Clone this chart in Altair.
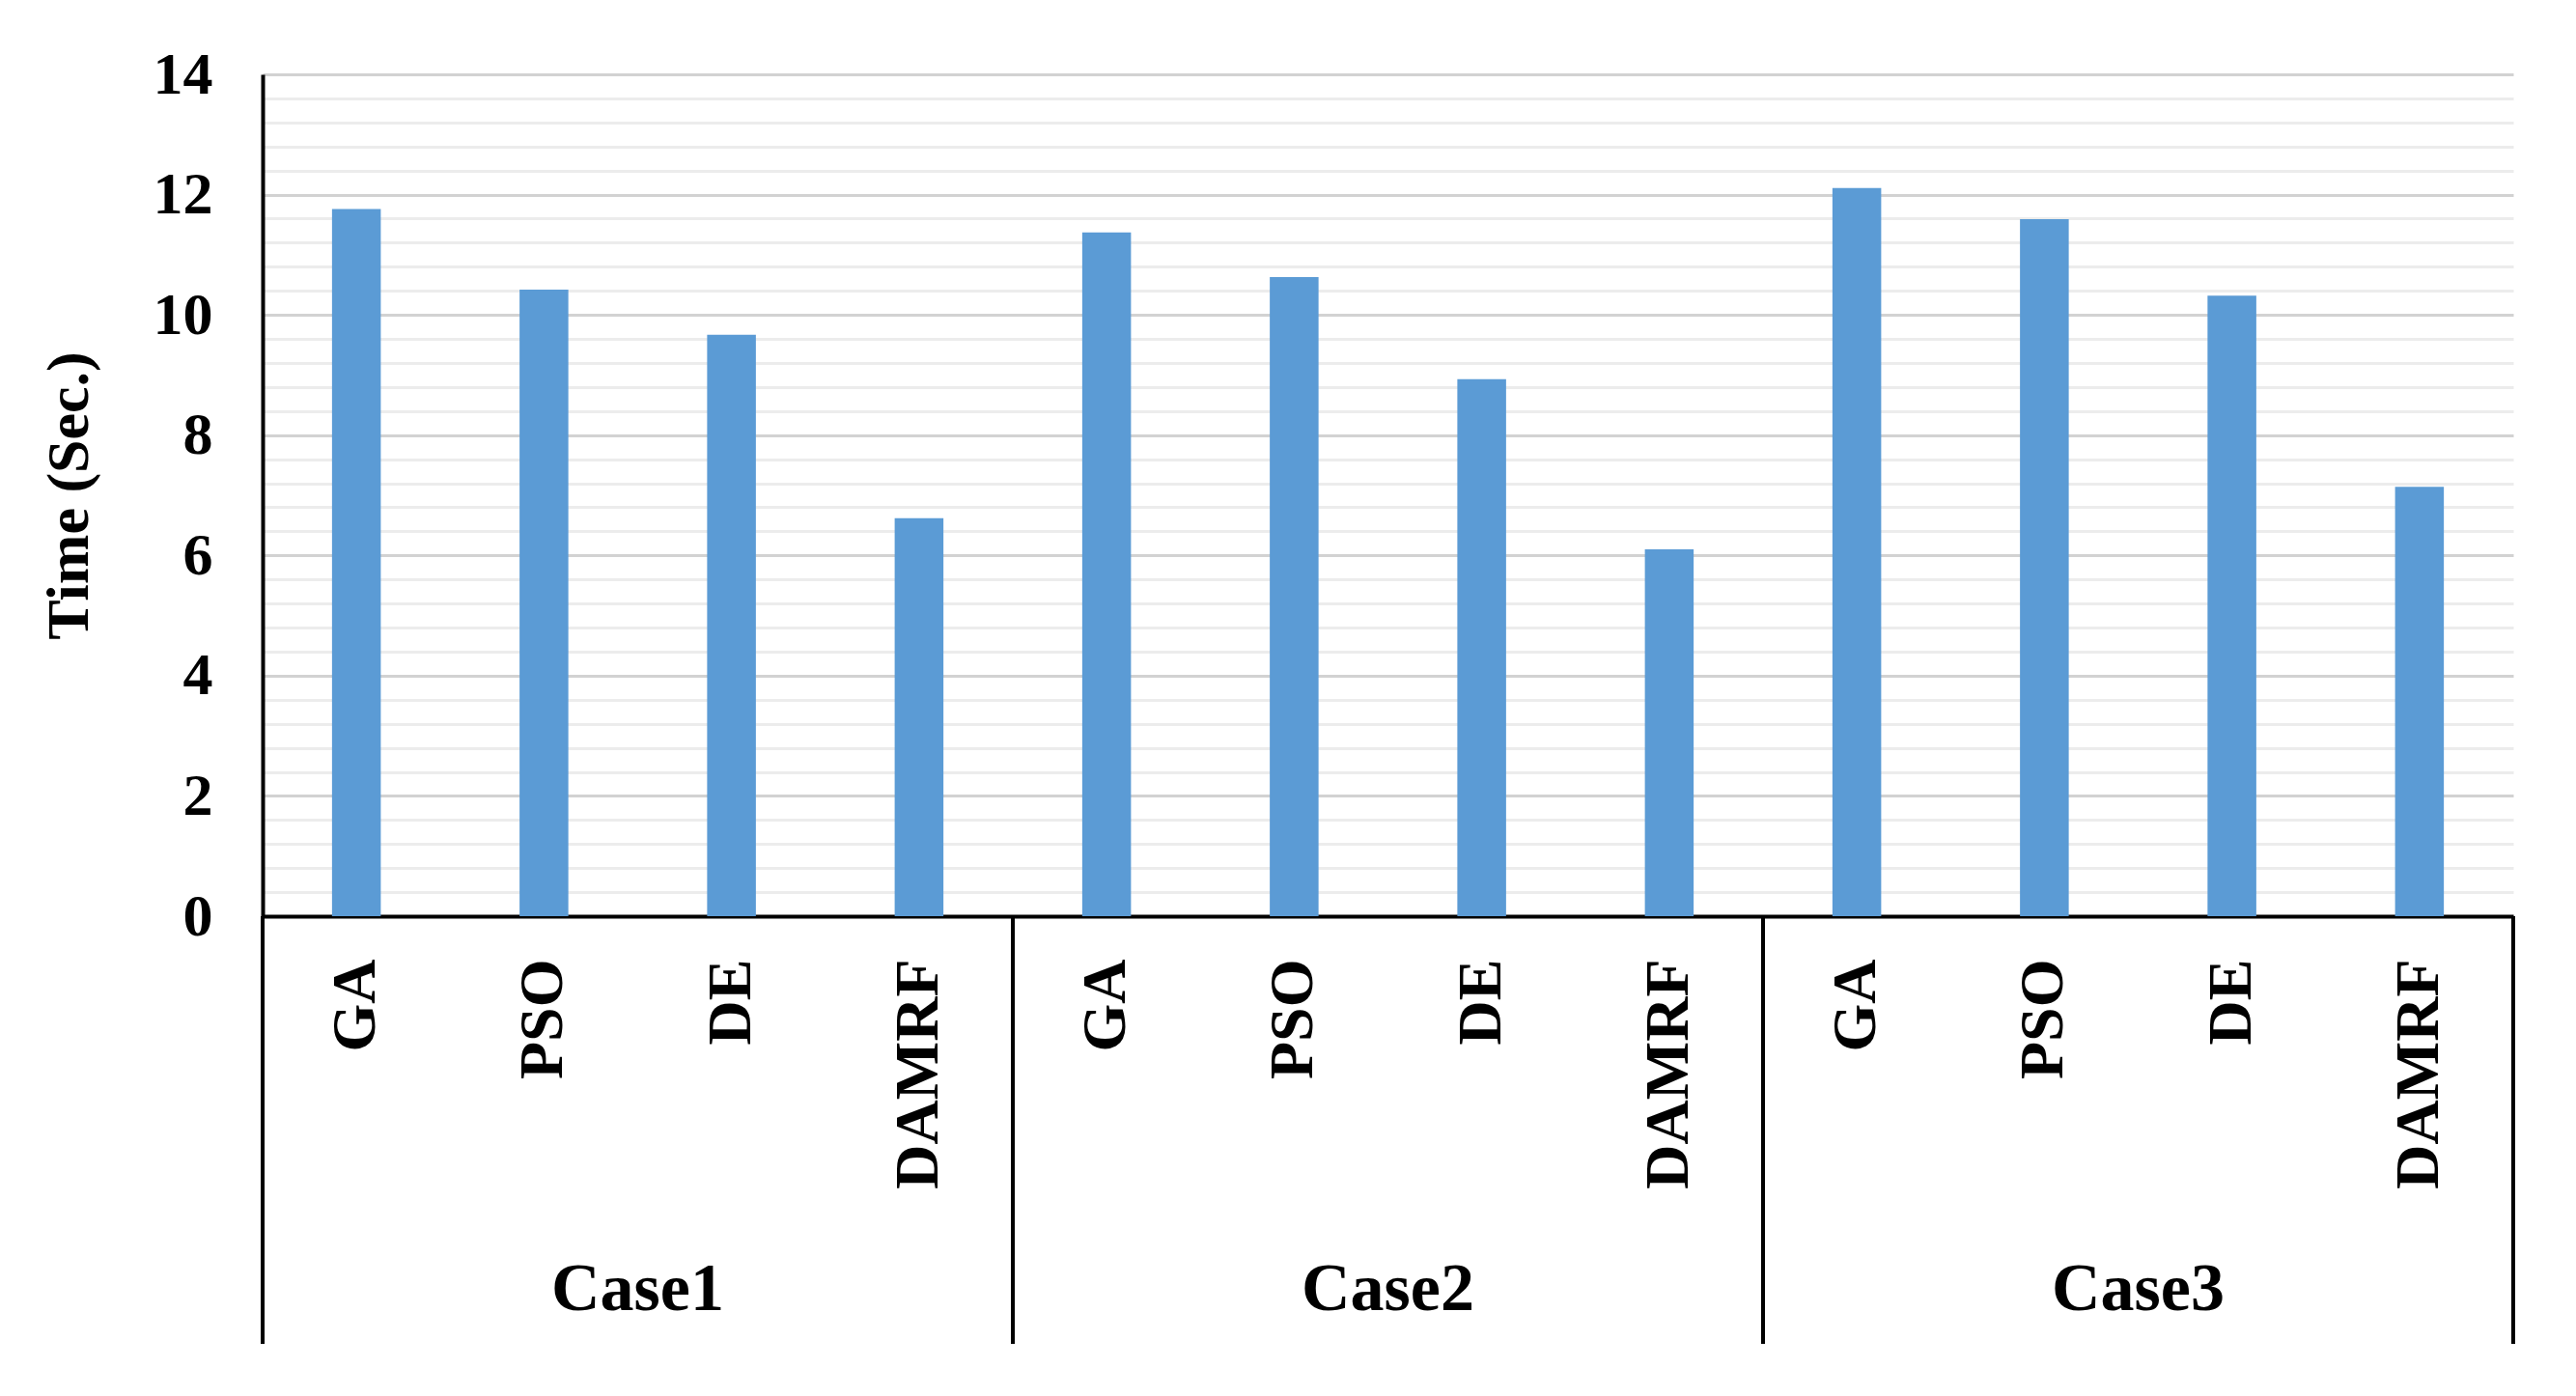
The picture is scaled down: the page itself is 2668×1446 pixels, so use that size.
import altair as alt
import pandas as pd

cases = ["Case1", "Case2", "Case3"]
methods = ["GA", "PSO", "DE", "DAMRF"]
case1_times = [11.76, 10.42, 9.67, 6.62]
case2_times = [11.37, 10.63, 8.93, 6.10]
case3_times = [12.11, 11.59, 10.32, 7.14]
y_title = "Time (Sec.)"
grid_values = [round(i * 0.4, 1) for i in range(36)]

series = [case1_times, case2_times, case3_times]
rows = []
for c, vals in zip(cases, series):
    for m, v in zip(methods, vals):
        rows.append({"key": f"{c}|{m}", "case": c, "method": m, "time": v})
df = pd.DataFrame(rows)
order = list(df["key"])

W, H = 2331, 872
FONT = "Liberation Serif"
MAJOR = "abs(datum.value - round(datum.value/2)*2) < 0.01"

xscale = alt.Scale(domain=order, paddingInner=0, paddingOuter=0)

bars = alt.Chart(df).mark_bar(width=alt.RelativeBandSize(0.26), color="#5B9BD5").encode(
    x=alt.X("key:N", sort=order, scale=xscale,
            axis=alt.Axis(title=None, labelAngle=270, labelExpr="split(datum.label, '|')[1]",
                          labelFont=FONT, labelFontWeight="bold", labelFontSize=64,
                          labelColor="black", labelPadding=44, ticks=False, labelLimit=1000,
                          domainColor="black", domainWidth=4, labelOverlap=False, grid=False)),
    y=alt.Y("time:Q", scale=alt.Scale(domain=[0, 14], nice=False),
            axis=alt.Axis(title=y_title, values=grid_values, format=".0f",
                          labelExpr=MAJOR + " ? datum.label : ''",
                          labelFont=FONT, labelFontWeight="bold", labelFontSize=62,
                          labelColor="black", labelPadding=52, ticks=False, labelOverlap=False,
                          domainColor="black", domainWidth=4,
                          gridColor={"condition": {"test": MAJOR, "value": "#d2d2d2"}, "value": "#ececec"},
                          gridWidth=3,
                          titleFont=FONT, titleFontWeight="bold", titleFontSize=62, titleColor="black",
                          titleX=-201, titleY=436, titleAngle=270, titleAlign="center",
                          titleBaseline="middle")),
)

sep_start = pd.DataFrame({"key": [f"{c}|{methods[0]}" for c in cases]})
sep_end = pd.DataFrame({"key": [f"{cases[-1]}|{methods[-1]}"]})

rule_start = alt.Chart(sep_start).mark_rule(color="black", strokeWidth=4).encode(
    x=alt.X("key:N", sort=order, scale=xscale, bandPosition=0),
    y=alt.value(H), y2=alt.value(H + 443))
rule_end = alt.Chart(sep_end).mark_rule(color="black", strokeWidth=4).encode(
    x=alt.X("key:N", sort=order, scale=xscale, bandPosition=1),
    y=alt.value(H), y2=alt.value(H + 443))

case_df = pd.DataFrame({"key": [f"{c}|{methods[1]}" for c in cases], "case": cases})
case_text = alt.Chart(case_df).mark_text(font=FONT, fontWeight="bold", fontSize=70,
                                         color="black", baseline="middle", align="center").encode(
    x=alt.X("key:N", sort=order, scale=xscale, bandPosition=1),
    y=alt.value(H + 387),
    text="case:N")

chart = alt.layer(bars, rule_start, rule_end, case_text).properties(
    width=W, height=H,
    autosize=alt.AutoSizeParams(type="none"),
    padding={"left": 264, "top": 69, "right": 50, "bottom": 470},
    background="white",
).configure_view(strokeWidth=0)

chart.save("out.html", embed_options={"renderer": "svg", "actions": False})
